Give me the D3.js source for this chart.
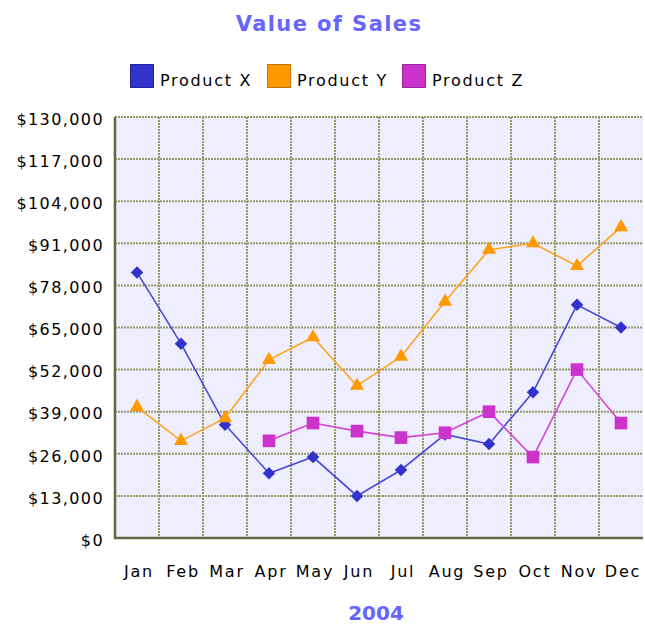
<!DOCTYPE html>
<html><head><meta charset="utf-8">
<script src="https://cdn.jsdelivr.net/npm/d3@7"></script>
<style>body{margin:0;background:#fff}svg{display:block}</style>
</head><body>
<svg id="c" width="645" height="626"></svg>
<script>
const months = ["Jan","Feb","Mar","Apr","May","Jun","Jul","Aug","Sep","Oct","Nov","Dec"];
const productX = [82000,60000,35000,20000,25000,13000,21000,32000,29000,45000,72000,65000];
const productY = [40500,30000,37000,55000,62000,47000,56000,73000,89000,91000,84000,96000];
const productZ = [null,null,null,30000,35500,33000,31000,32500,39000,25000,52000,35500];
const yTicks = [0,13000,26000,39000,52000,65000,78000,91000,104000,117000,130000];
const seriesNames = ["Product X","Product Y","Product Z"];
const seriesColors = ["#3333cc","#ff9900","#cc33cc"];
const lineColors = ["#4a4ad8","#ffa31a","#d444d4"];
const markerShapes = [d3.symbolDiamond2, d3.symbolTriangle, d3.symbolSquare];

const FONT = "'DejaVu Sans', Verdana, sans-serif";
const svg = d3.select("#c");
const L = 115, R = 643, T = 117, B = 538;
const x = d3.scaleBand().domain(months).range([L, R]);
const y = d3.scaleLinear().domain([0,130000]).range([B, T]);

// title
svg.append("text").attr("x", 329).attr("y", 31).attr("text-anchor","middle")
  .attr("font-family",FONT).attr("font-weight","bold").attr("letter-spacing",1.4)
  .attr("font-size", 21).attr("fill","#6666ff").text("Value of Sales");

// legend
const legX = [130, 267, 402];
seriesNames.forEach((n,i)=>{
  svg.append("rect").attr("x", legX[i]+0.5).attr("y", 64.5).attr("width", 23).attr("height", 23)
    .attr("fill", seriesColors[i]).attr("stroke", d3.color(seriesColors[i]).darker(0.8));
  svg.append("text").attr("x", legX[i]+30).attr("y", 86)
    .attr("font-family",FONT).attr("font-size", 16).attr("letter-spacing",1.7)
    .attr("fill","#000").text(n);
});

// plot background
svg.append("rect").attr("x", L).attr("y", T).attr("width", R-L).attr("height", B-T).attr("fill","#eeeeff");

// grid
const grid = svg.append("g");
grid.selectAll("line.h").data(yTicks.filter(d=>d>0)).join("line")
  .attr("x1", L).attr("x2", R).attr("y1", d=>y(d)).attr("y2", d=>y(d))
  .attr("stroke","#999966").attr("stroke-width",2).attr("stroke-dasharray","2,1");
grid.selectAll("line.v").data(months.slice(1)).join("line")
  .attr("x1", d=>x(d)).attr("x2", d=>x(d)).attr("y1", T).attr("y2", B)
  .attr("stroke","#999966").attr("stroke-width",2).attr("stroke-dasharray","2,1");

// axes
const yAxis = svg.append("g").attr("transform", `translate(${L},0)`)
  .call(d3.axisLeft(y).tickValues(yTicks).tickSize(0).tickPadding(11)
    .tickFormat(d=>"$"+d3.format(",")(d)));
yAxis.select(".domain").remove();
yAxis.selectAll("text").attr("font-family",FONT).attr("letter-spacing",1.4)
  .attr("font-size", 16).attr("fill","#000").attr("dy","0.45em");

const xAxis = svg.append("g").attr("transform", `translate(0,${B})`)
  .call(d3.axisBottom(x).tickSize(0).tickPadding(28));
xAxis.select(".domain").remove();
xAxis.selectAll("text").attr("font-family",FONT).attr("letter-spacing",1.8)
  .attr("font-size", 16).attr("fill","#000").attr("dx", 2);

svg.append("line").attr("x1", L).attr("x2", L).attr("y1", T).attr("y2", B+1)
  .attr("stroke","#666644").attr("stroke-width",2.5);
svg.append("line").attr("x1", L-1).attr("x2", R).attr("y1", B).attr("y2", B)
  .attr("stroke","#666644").attr("stroke-width",2.5);

// x-axis title
svg.append("text").attr("x", (L+R)/2-3).attr("y", 620).attr("text-anchor","middle")
  .attr("font-family",FONT).attr("font-weight","bold")
  .attr("font-size", 20).attr("fill","#6666ff").text("2004");

// series
const allSeries = [productX, productY, productZ];
const cx = m => x(m) + x.bandwidth()/2;
const markerSizes = [100, 85, 160];
allSeries.forEach((vals,i)=>{
  const pts = months.map((m,j)=>({m, v: vals[j]})).filter(d=>d.v!=null);
  const line = d3.line().x(d=>cx(d.m)).y(d=>y(d.v));
  svg.append("path").datum(pts).attr("d", line).attr("fill","none")
    .attr("stroke", lineColors[i]).attr("stroke-width", 1.6);
  svg.append("g").selectAll("path").data(pts).join("path")
    .attr("transform", d=>`translate(${cx(d.m)},${y(d.v)})`)
    .attr("d", d3.symbol().type(markerShapes[i]).size(markerSizes[i]))
    .attr("fill", seriesColors[i]);
});
</script>
</body></html>
